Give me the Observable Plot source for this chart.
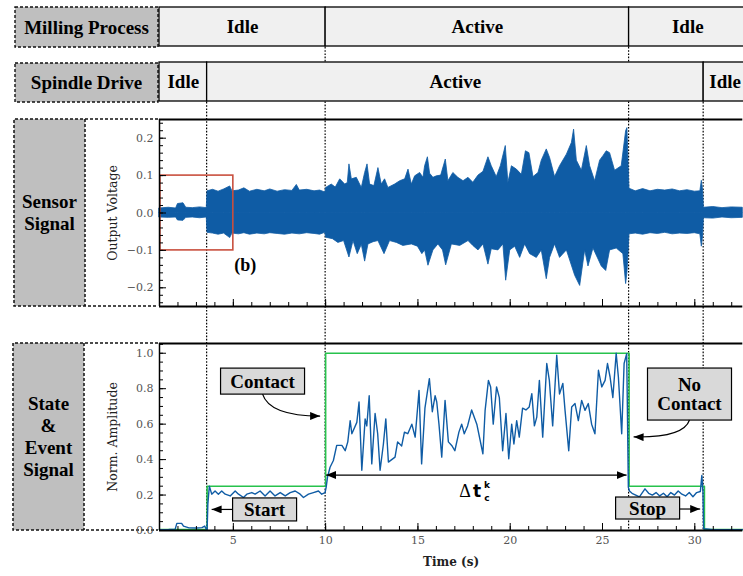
<!DOCTYPE html>
<html><head><meta charset="utf-8">
<script src="https://cdn.jsdelivr.net/npm/d3@7"></script>
<script src="https://cdn.jsdelivr.net/npm/@observablehq/plot@0.6"></script>
<style>
html,body{margin:0;padding:0;background:#fff;}
#root{position:relative;width:743px;height:576px;overflow:hidden;}
#root > svg{position:absolute;left:0;}
</style></head>
<body><div id="root"></div>
<script>
const BLUE = "#0f5ca5", GREEN = "#27c24c", RED = "#c9503f";
const X_DOMAIN = [1, 32.6];
const X_RANGE = [159, 742.3];

// event times (s)
const eventNames = ["Spindle start", "Contact", "No contact", "Spindle stop"];
const eventTimes = [3.58, 10.0, 26.44, 30.48];

// state bars
const rowNames = ["Milling Process", "Spindle Drive"];
const millingStates = ["Idle", "Active", "Idle"];
const millingBounds = [1, 10.0, 26.44, 32.8];
const spindleStates = ["Idle", "Active", "Idle"];
const spindleBounds = [1, 3.58, 30.48, 32.8];

// sensor signal envelope [time, voltage]
const sensorUpper = [[1.0,0.012],[1.5,0.014],[1.9,0.012],[2.0,0.024],[2.3,0.026],[2.45,0.014],[2.8,0.013],[3.2,0.015],[3.56,0.013],[3.6,0.058],[3.9,0.062],[4.2,0.057],[4.5,0.063],[4.83,0.071],[4.95,0.058],[5.3,0.06],[5.6,0.066],[5.9,0.057],[6.3,0.062],[6.7,0.058],[7.0,0.063],[7.4,0.057],[7.8,0.061],[8.2,0.059],[8.44,0.075],[8.6,0.06],[9.0,0.062],[9.4,0.058],[9.7,0.06],[9.98,0.055],[10.03,0.067],[10.33,0.076],[10.55,0.068],[10.79,0.09],[11.06,0.076],[11.2,0.08],[11.29,0.13],[11.42,0.09],[11.69,0.094],[11.96,0.067],[12.14,0.107],[12.27,0.13],[12.41,0.076],[12.64,0.072],[12.86,0.12],[13.04,0.076],[13.22,0.09],[13.4,0.067],[13.76,0.076],[14.04,0.085],[14.31,0.09],[14.49,0.116],[14.67,0.076],[14.85,0.098],[15.12,0.107],[15.3,0.094],[15.39,0.125],[15.54,0.149],[15.66,0.105],[15.84,0.094],[16.02,0.098],[16.26,0.1],[16.51,0.143],[16.65,0.085],[16.92,0.107],[17.19,0.094],[17.47,0.085],[17.74,0.094],[18.0,0.081],[18.28,0.1],[18.55,0.11],[18.82,0.149],[19.0,0.125],[19.27,0.096],[19.49,0.125],[19.76,0.179],[19.9,0.08],[20.09,0.125],[20.36,0.116],[20.63,0.102],[20.85,0.165],[21.04,0.16],[21.26,0.096],[21.53,0.107],[21.71,0.14],[21.98,0.17],[22.16,0.147],[22.43,0.096],[22.7,0.125],[23.07,0.156],[23.34,0.187],[23.46,0.223],[23.61,0.14],[23.88,0.113],[24.15,0.179],[24.33,0.125],[24.6,0.085],[24.87,0.14],[25.05,0.152],[25.23,0.165],[25.41,0.16],[25.68,0.113],[26.04,0.125],[26.28,0.219],[26.35,0.227],[26.42,0.12],[26.46,0.065],[26.8,0.058],[27.2,0.064],[27.6,0.058],[28.0,0.062],[28.4,0.06],[28.8,0.063],[29.2,0.058],[29.6,0.061],[30.0,0.057],[30.3,0.058],[30.38,0.086],[30.45,0.06],[30.49,0.014],[31.0,0.016],[31.5,0.013],[32.0,0.015],[32.6,0.014]];
const sensorLower = [[1.0,-0.012],[1.5,-0.013],[1.9,-0.012],[2.0,-0.02],[2.3,-0.021],[2.45,-0.013],[2.8,-0.012],[3.2,-0.014],[3.56,-0.012],[3.6,-0.053],[3.9,-0.055],[4.2,-0.058],[4.5,-0.055],[4.83,-0.067],[4.95,-0.055],[5.3,-0.057],[5.6,-0.054],[5.9,-0.058],[6.3,-0.055],[6.7,-0.057],[7.0,-0.054],[7.4,-0.056],[7.8,-0.058],[8.2,-0.055],[8.6,-0.057],[9.0,-0.054],[9.4,-0.056],[9.7,-0.058],[9.98,-0.053],[10.03,-0.066],[10.4,-0.07],[10.69,-0.08],[11.0,-0.075],[11.29,-0.119],[11.51,-0.075],[11.74,-0.11],[11.96,-0.085],[12.14,-0.13],[12.32,-0.084],[12.6,-0.078],[12.86,-0.075],[13.19,-0.11],[13.49,-0.075],[13.86,-0.08],[14.21,-0.088],[14.67,-0.084],[15.0,-0.09],[15.24,-0.11],[15.39,-0.1],[15.57,-0.141],[15.84,-0.1],[16.11,-0.084],[16.36,-0.1],[16.53,-0.14],[16.84,-0.084],[17.29,-0.088],[17.74,-0.075],[18.0,-0.088],[18.28,-0.1],[18.55,-0.084],[18.82,-0.138],[19.0,-0.097],[19.36,-0.1],[19.63,-0.084],[19.78,-0.181],[20.0,-0.1],[20.27,-0.09],[20.54,-0.12],[20.81,-0.084],[21.08,-0.11],[21.44,-0.12],[21.71,-0.1],[21.98,-0.177],[22.16,-0.12],[22.43,-0.084],[22.7,-0.12],[23.07,-0.1],[23.52,-0.168],[23.79,-0.195],[24.06,-0.1],[24.24,-0.143],[24.51,-0.095],[24.96,-0.143],[25.2,-0.155],[25.41,-0.1],[25.77,-0.095],[26.13,-0.11],[26.28,-0.19],[26.35,-0.16],[26.42,-0.1],[26.46,-0.057],[26.8,-0.055],[27.2,-0.058],[27.6,-0.054],[28.0,-0.056],[28.4,-0.053],[28.8,-0.057],[29.2,-0.055],[29.6,-0.056],[30.0,-0.054],[30.3,-0.057],[30.38,-0.09],[30.45,-0.06],[30.49,-0.014],[31.0,-0.015],[31.5,-0.012],[32.0,-0.014],[32.6,-0.013]];

// normalized amplitude [time, value]
const amplitude = [[1.0,0.005],[1.5,0.006],[1.85,0.008],[1.94,0.04],[2.2,0.04],[2.3,0.025],[2.6,0.015],[3.0,0.014],[3.3,0.016],[3.45,0.025],[3.52,0.01],[3.58,0.005],[3.62,0.15],[3.7,0.25],[3.83,0.205],[4.01,0.223],[4.19,0.205],[4.37,0.223],[4.56,0.205],[4.83,0.195],[5.1,0.223],[5.28,0.205],[5.55,0.186],[5.73,0.205],[6.0,0.214],[6.18,0.205],[6.45,0.223],[6.72,0.195],[6.99,0.223],[7.26,0.195],[7.54,0.214],[7.81,0.195],[8.08,0.214],[8.35,0.223],[8.62,0.205],[8.8,0.186],[9.07,0.205],[9.34,0.214],[9.61,0.223],[9.79,0.205],[9.97,0.214],[10.03,0.245],[10.1,0.3],[10.24,0.357],[10.42,0.395],[10.6,0.48],[10.88,0.48],[11.06,0.45],[11.2,0.5],[11.33,0.62],[11.42,0.546],[11.69,0.61],[11.81,0.725],[11.96,0.34],[12.14,0.63],[12.23,0.59],[12.36,0.76],[12.5,0.376],[12.68,0.66],[12.82,0.546],[12.95,0.34],[13.13,0.488],[13.26,0.63],[13.4,0.386],[13.76,0.414],[13.9,0.5],[14.12,0.477],[14.27,0.555],[14.45,0.546],[14.67,0.6],[14.85,0.527],[15.06,0.79],[15.2,0.376],[15.38,0.69],[15.62,0.857],[15.78,0.67],[15.93,0.76],[16.02,0.725],[16.14,0.6],[16.29,0.414],[16.47,0.734],[16.65,0.5],[16.83,0.48],[17.0,0.45],[17.22,0.555],[17.37,0.6],[17.51,0.546],[17.69,0.59],[17.91,0.68],[18.19,0.6],[18.52,0.433],[18.64,0.678],[18.82,0.847],[18.94,0.81],[19.08,0.6],[19.26,0.81],[19.41,0.75],[19.59,0.45],[19.77,0.66],[19.92,0.405],[20.08,0.6],[20.2,0.488],[20.35,0.62],[20.49,0.527],[20.67,0.69],[20.85,0.68],[21.03,0.697],[21.17,0.772],[21.31,0.59],[21.44,0.64],[21.58,0.847],[21.76,0.527],[21.98,0.942],[22.12,0.847],[22.3,0.59],[22.52,0.989],[22.67,0.77],[22.85,0.83],[22.97,0.678],[23.17,0.45],[23.33,0.697],[23.51,0.716],[23.69,0.62],[23.87,0.734],[24.05,0.678],[24.23,0.716],[24.41,0.6],[24.59,0.546],[24.78,0.904],[24.96,0.81],[25.14,0.847],[25.27,0.942],[25.41,0.866],[25.56,0.75],[25.74,1.0],[25.86,0.866],[26.04,0.546],[26.17,0.942],[26.31,0.998],[26.4,0.244],[26.46,0.223],[26.6,0.21],[26.8,0.2],[27.0,0.19],[27.3,0.235],[27.5,0.21],[27.7,0.2],[27.9,0.214],[28.1,0.195],[28.3,0.21],[28.5,0.19],[28.7,0.214],[28.9,0.2],[29.1,0.223],[29.3,0.205],[29.5,0.195],[29.7,0.214],[29.9,0.19],[30.1,0.214],[30.3,0.22],[30.38,0.31],[30.44,0.22],[30.48,0.01],[31.0,0.005],[32.6,0.005]];

// state signal levels (step)
const levelT = [1.0, 3.58, 10.0, 26.44, 30.52, 32.6];
const levelV = [0.005, 0.25, 1.0, 0.25, 0.005, 0.005];

// ticks
const xMajor = [5, 10, 15, 20, 25, 30];
const xMinor = d3.range(1, 33, 1);
const sensorYDomain = [-0.25, 0.25];
const sensorYMajor = [-0.2, -0.1, 0.0, 0.1, 0.2];
const sensorYMinor = d3.range(-0.24, 0.2401, 0.02);
const stateYDomain = [0, 1.055];
const stateYMajor = [0.0, 0.2, 0.4, 0.6, 0.8, 1.0];
const stateYMinor = d3.range(0, 1.0501, 0.05);

// zoom box (b)
const zoomBox = [{t1: 1.05, t2: 5.0, v1: -0.1, v2: 0.1}];

const root = document.getElementById("root");
const fmt1 = d3.format(".1f");
const SERIF = "'Liberation Serif', serif";
const TICKFONT = "'DejaVu Serif', serif";

// ---------- background layer ----------
const xs = Plot.scale({x: {domain: X_DOMAIN, range: X_RANGE}});
const bg = d3.select(root).append("svg").attr("width", 743).attr("height", 576).style("top", "0px");
const dash = "3,2";
function labelBox(x, y, w, h, lines, cy) {
  bg.append("rect").attr("x", x).attr("y", y).attr("width", w).attr("height", h)
    .attr("fill", "#bfbfbf").attr("stroke", "#111").attr("stroke-width", 1.4).attr("stroke-dasharray", dash);
  const n = lines.length;
  lines.forEach((s, i) => {
    bg.append("text").attr("x", x + w / 2).attr("y", cy + (i - (n - 1) / 2) * 22)
      .attr("text-anchor", "middle").attr("dominant-baseline", "central")
      .style("font-family", SERIF).style("font-weight", "bold").style("font-size", "19px").text(s);
  });
}
labelBox(15, 7, 143, 40, ["Milling Process"], 27);
labelBox(15, 63, 143, 39, ["Spindle Drive"], 82.5);
// side panels
function sideBox(y0, y1, xl, xm, lines) {
  bg.append("rect").attr("x", xl).attr("y", y0).attr("width", xm - xl).attr("height", y1 - y0).attr("fill", "#bfbfbf");
  bg.append("path").attr("d", `M158,${y0}H${xl}V${y1}H158M${xm},${y0}V${y1}`)
    .attr("fill", "none").attr("stroke", "#111").attr("stroke-width", 1.5).attr("stroke-dasharray", dash);
  const cy = (y0 + y1) / 2, n = lines.length;
  lines.forEach((s, i) => {
    bg.append("text").attr("x", (xl + xm) / 2).attr("y", cy + (i - (n - 1) / 2) * 22)
      .attr("text-anchor", "middle").attr("dominant-baseline", "central")
      .style("font-family", SERIF).style("font-weight", "bold").style("font-size", "19px").text(s);
  });
}
sideBox(119, 306, 14, 85, ["Sensor", "Signal"]);
sideBox(343, 530, 13, 84, ["State", "&", "Event", "Signal"]);
// dotted event lines
const eventTop = [102, 47, 47, 102];
eventTimes.forEach((t, i) => {
  bg.append("line").attr("x1", xs.apply(t)).attr("x2", xs.apply(t)).attr("y1", eventTop[i]).attr("y2", 530)
    .attr("stroke", "#000").attr("stroke-width", 1.2).attr("stroke-dasharray", "1.6,1.6");
});

// ---------- top bars ----------
function segs(row, states, bounds) {
  return states.map((s, i) => ({row, state: s, t1: bounds[i], t2: bounds[i + 1]}));
}
const barData = [...segs(rowNames[0], millingStates, millingBounds), ...segs(rowNames[1], spindleStates, spindleBounds)];
const bars = Plot.plot({
  width: 743, height: 110, marginLeft: 159, marginRight: 0.7, marginTop: 0, marginBottom: 0,
  style: {background: "transparent"},
  x: {domain: X_DOMAIN, range: X_RANGE, axis: null},
  y: {domain: rowNames, range: [7, 102], paddingInner: 0.288, paddingOuter: 0, axis: null},
  marks: [
    Plot.barX(barData, {x1: "t1", x2: "t2", y: "row", fill: "#f0f0f0", stroke: "#000", strokeWidth: 1.3}),
    Plot.text(barData, {x: d => (d.t1 + d.t2) / 2, y: "row", text: "state", fontSize: 19, fontWeight: "bold", fontFamily: SERIF, fill: "#000"})
  ]
});
bars.style.top = "0px";
root.append(bars);

// ---------- axes helper ----------
function axisMarks(yMajor, yMinor, labelXAxis) {
  return [
    Plot.axisY(yMinor, {tickSize: -4, tickFormat: () => "", label: null, stroke: "#000"}),
    Plot.axisY(yMajor, {tickSize: -7, tickFormat: () => "", label: null, stroke: "#000"}),
    Plot.axisY(yMajor, {tickSize: 0, tickPadding: 6, tickFormat: fmt1, label: null, fill: "#555", fontSize: 11, fontFamily: TICKFONT}),
    Plot.axisX(xMinor, {tickSize: -4, tickFormat: () => "", label: null, stroke: "#000"}),
    Plot.axisX(xMajor, {tickSize: -7, tickFormat: () => "", label: null, stroke: "#000"}),
    ...(labelXAxis ? [Plot.axisX(xMajor, {tickSize: 0, tickPadding: 6, label: null, fill: "#555", fontSize: 11, fontFamily: TICKFONT})] : [])
  ];
}

// ---------- sensor panel ----------
const sensor = Plot.plot({
  width: 743, height: 205, marginLeft: 159, marginRight: 0.7, marginTop: 9, marginBottom: 9,
  style: {background: "transparent", fontFamily: TICKFONT},
  x: {domain: X_DOMAIN, range: X_RANGE},
  y: {domain: sensorYDomain},
  marks: [
    Plot.areaY(sensorUpper, {x: d => d[0], y1: 0, y2: d => d[1], fill: BLUE, stroke: BLUE, strokeWidth: 0.8}),
    Plot.areaY(sensorLower, {x: d => d[0], y1: 0, y2: d => d[1], fill: BLUE, stroke: BLUE, strokeWidth: 0.8}),
    Plot.rect(zoomBox, {x1: "t1", x2: "t2", y1: "v1", y2: "v2", fill: "none", stroke: RED, strokeWidth: 1.6}),
    Plot.text(["(b)"], {x: 5.64, y: -0.14, text: d => d, fontSize: 18, fontWeight: "bold", fontFamily: SERIF, fill: "#000"}),
    ...axisMarks(sensorYMajor, sensorYMinor, false),
    Plot.text(["Output Voltage"], {frameAnchor: "left", textAnchor: "middle", dx: -47, rotate: -90, text: d => d, fontSize: 12.5, fill: "#222", fontFamily: TICKFONT}),
    Plot.ruleY([sensorYDomain[1]], {stroke: "#000", strokeWidth: 2.2}),
    Plot.ruleY([sensorYDomain[0]], {stroke: "#000", strokeWidth: 2.2}),
    Plot.ruleX([X_DOMAIN[0]], {stroke: "#000", strokeWidth: 1.5})
  ]
});
sensor.style.top = "110px";
root.append(sensor);

// ---------- state panel ----------
const levels = levelT.map((t, i) => [t, levelV[i]]);
const state = Plot.plot({
  width: 743, height: 242, marginLeft: 159, marginRight: 0.7, marginTop: 9, marginBottom: 46,
  style: {background: "transparent", fontFamily: TICKFONT},
  x: {domain: X_DOMAIN, range: X_RANGE},
  y: {domain: stateYDomain},
  marks: [
    Plot.line(levels, {x: d => d[0], y: d => d[1], curve: "step-after", stroke: GREEN, strokeWidth: 1.6}),
    Plot.line(amplitude, {x: d => d[0], y: d => d[1], stroke: BLUE, strokeWidth: 1.4}),
    ...axisMarks(stateYMajor, stateYMinor, true),
    Plot.text(["Norm. Amplitude"], {frameAnchor: "left", textAnchor: "middle", dx: -47, rotate: -90, text: d => d, fontSize: 12.5, fill: "#222", fontFamily: TICKFONT}),
    Plot.text(["Time (s)"], {frameAnchor: "bottom", dy: 35, text: d => d, fontSize: 12, fontWeight: "bold", fill: "#222", fontFamily: TICKFONT}),
    Plot.ruleY([stateYDomain[1]], {stroke: "#000", strokeWidth: 2.2}),
    Plot.ruleY([stateYDomain[0]], {stroke: "#000", strokeWidth: 2.2}),
    Plot.ruleX([X_DOMAIN[0]], {stroke: "#000", strokeWidth: 1.5})
  ]
});
state.style.top = "334px";
root.append(state);

// annotations on the state panel, positioned through the panel's scales
const sx = v => state.scale("x").apply(v);
const sy = v => state.scale("y").apply(v);
const ann = d3.select(state).append("g");
const defs = ann.append("defs");
defs.append("marker").attr("id", "ah").attr("viewBox", "0 0 10 8").attr("refX", 10).attr("refY", 4)
  .attr("markerWidth", 10).attr("markerHeight", 8).attr("markerUnits", "userSpaceOnUse").attr("orient", "auto-start-reverse")
  .append("path").attr("d", "M0,0L10,4L0,8Z").attr("fill", "#000");

const notes = [
  {key: "contact", lines: ["Contact"], t: 6.61, v: 0.84, w: 84, h: 26},
  {key: "start", lines: ["Start"], t: 6.72, v: 0.116, w: 64, h: 23},
  {key: "nocontact", lines: ["No", "Contact"], t: 29.74, v: 0.767, w: 84, h: 52},
  {key: "stop", lines: ["Stop"], t: 27.47, v: 0.124, w: 64, h: 22}
];
const box = {};
notes.forEach(n => {
  const cx = sx(n.t), cy = sy(n.v);
  box[n.key] = {cx, cy, x0: cx - n.w / 2, x1: cx + n.w / 2, y0: cy - n.h / 2, y1: cy + n.h / 2};
  ann.append("rect").attr("x", cx - n.w / 2).attr("y", cy - n.h / 2).attr("width", n.w).attr("height", n.h)
    .attr("fill", "#d9d9d9").attr("stroke", "#000").attr("stroke-width", 1.2);
  n.lines.forEach((s, i) => {
    ann.append("text").attr("x", cx).attr("y", cy + (i - (n.lines.length - 1) / 2) * 19)
      .attr("text-anchor", "middle").attr("dominant-baseline", "central")
      .style("font-family", SERIF).style("font-weight", "bold").style("font-size", "19px").text(s);
  });
});
const arrow = d => ann.append("path").attr("d", d).attr("fill", "none").attr("stroke", "#000").attr("stroke-width", 1.2);
// Contact: curved arrow to contact edge
{
  const b = box.contact, x2 = sx(eventTimes[1]) - 5, y2 = sy(0.643);
  arrow(`M${b.cx},${b.y1}Q${b.cx + 7},${y2} ${x2},${y2}`).attr("marker-end", "url(#ah)");
}
// No contact
{
  const b = box.nocontact, x2 = sx(eventTimes[2]) + 5, y2 = sy(0.525);
  arrow(`M${b.cx},${b.y1}Q${b.cx - 6},${y2 + 1} ${x2},${y2}`).attr("marker-end", "url(#ah)");
}
// Start / Stop
{
  const b = box.start;
  arrow(`M${b.x0},${b.cy}H${sx(eventTimes[0]) + 5}`).attr("marker-end", "url(#ah)");
  const s = box.stop;
  arrow(`M${s.x1},${s.cy + 1}H${sx(eventTimes[3]) - 3}`).attr("marker-end", "url(#ah)");
}
// Δt arrow and label
{
  const y = sy(0.31);
  arrow(`M${sx(eventTimes[1]) + 1},${y}H${sx(eventTimes[2]) - 2}`).attr("marker-end", "url(#ah)").attr("marker-start", "url(#ah)");
  const lx = sx(18.5) - 17, ly = sy(0.185);
  ann.append("text").attr("x", lx).attr("y", ly).style("font-size", "18px").style("font-family", SERIF).text("Δ");
  ann.append("text").attr("x", lx + 12).attr("y", ly).style("font-size", "17px").style("font-weight", "bold")
    .style("font-family", "'DejaVu Sans', sans-serif").text("t");
  ann.append("text").attr("x", lx + 22).attr("y", ly - 9).style("font-size", "9px").style("font-weight", "bold")
    .style("font-family", "'DejaVu Sans', sans-serif").text("k");
  ann.append("text").attr("x", lx + 22).attr("y", ly + 4).style("font-size", "9px").style("font-weight", "bold")
    .style("font-family", "'DejaVu Sans', sans-serif").text("c");
}
</script>
</body></html>
